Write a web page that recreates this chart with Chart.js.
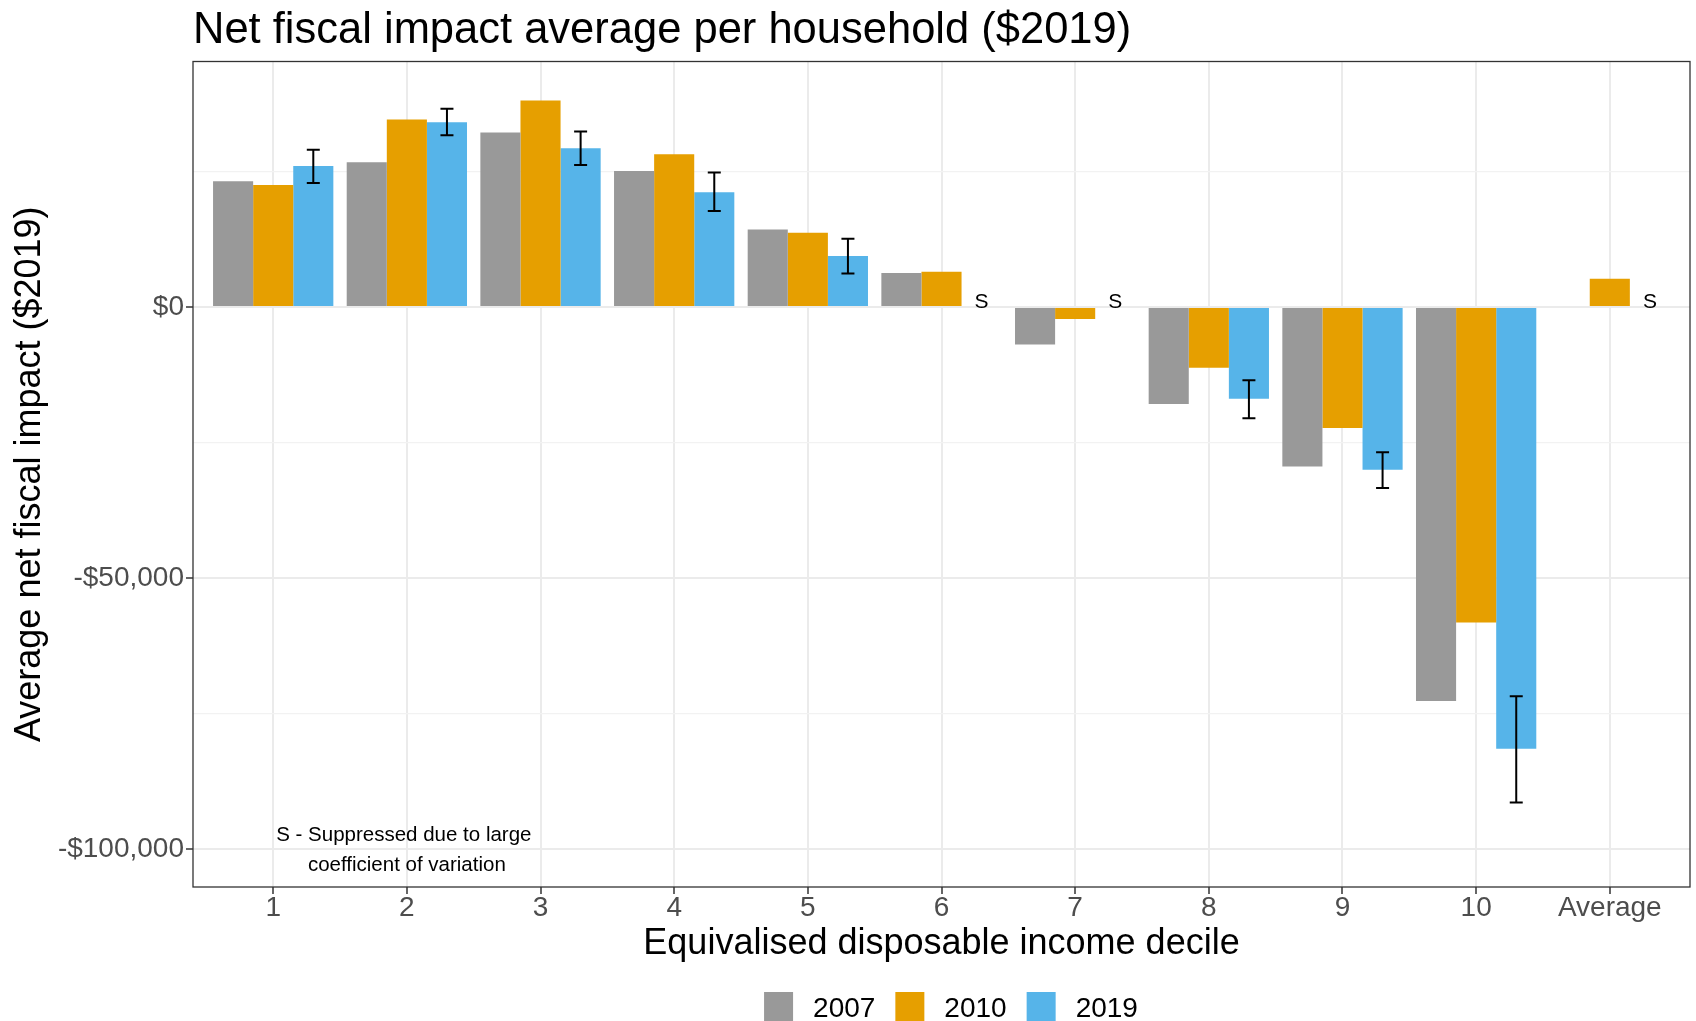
<!DOCTYPE html>
<html>
<head>
<meta charset="utf-8">
<script src="https://cdn.jsdelivr.net/npm/chart.js@4.4.1/dist/chart.umd.min.js"></script>
<style>
  html, body { margin: 0; padding: 0; background: #ffffff; }
  canvas { display: block; }
</style>
</head>
<body>
<canvas id="chart" width="1696" height="1021"></canvas>
<script>
// Income deciles (plus the all-household average) on the x axis
const deciles = ['1', '2', '3', '4', '5', '6', '7', '8', '9', '10', 'Average'];
const years = ['2007', '2010', '2019'];
const yearColors = ['#999999', '#E69F00', '#56B4E9'];

// Average net fiscal impact per household, $2019
const values2007 = [23200, 26700, 32200, 25100, 14300, 6300, -6900, -17900, -29400, -72700, -200];
const values2010 = [22500, 34600, 38100, 28200, 13700, 6500, -2200, -11200, -22300, -58200, 5200];
const values2019 = [26000, 34100, 29300, 21200, 9400, null, null, -16900, -30000, -81500, null];

// 2019 confidence interval bounds
const ci2019Low  = [22900, 31700, 26200, 17700, 6200, null, null, -20500, -33400, -91400, null];
const ci2019High = [29000, 36600, 32400, 24800, 12600, null, null, -13500, -26800, -71800, null];

// 2019 estimates that were suppressed
const suppressed2019 = [5, 6, 10];
const suppressedMark = 'S';
const noteLines = ['S - Suppressed due to large', 'coefficient of variation'];
const noteAt = { x: 1, y: -100000 };

// y axis ticks: labelled majors and unlabelled minors
const yTickValues = [-100000, -75000, -50000, -25000, 0, 25000];
const yTickLabels = ['-$100,000', '', '-$50,000', '', '$0', ''];

const FONT = "'Liberation Sans', Arial, Helvetica, sans-serif";
Chart.defaults.font.family = FONT;

const seriesValues = [values2007, values2010, values2019];

const decor = {
  id: 'decor',
  beforeDraw(chart) {
    const ctx = chart.ctx;
    ctx.save();
    ctx.fillStyle = '#ffffff';
    ctx.fillRect(0, 0, chart.width, chart.height);
    ctx.restore();
  },
  afterDatasetsDraw(chart) {
    const ctx = chart.ctx;
    const xs = chart.scales.x, ys = chart.scales.y;
    const area = chart.chartArea;
    const meta = chart.getDatasetMeta(2);
    const offset2019 = meta.data[0].x - xs.getPixelForValue(0);

    // error bars on the 2019 bars
    ctx.save();
    ctx.strokeStyle = '#000000';
    ctx.lineWidth = 2;
    const cap = 6.5;
    ci2019Low.forEach((lo, i) => {
      const hi = ci2019High[i];
      if (lo === null || hi === null) return;
      const cx = xs.getPixelForValue(i) + offset2019;
      const yl = ys.getPixelForValue(lo), yh = ys.getPixelForValue(hi);
      ctx.beginPath();
      ctx.moveTo(cx, yl); ctx.lineTo(cx, yh);
      ctx.moveTo(cx - cap, yl); ctx.lineTo(cx + cap, yl);
      ctx.moveTo(cx - cap, yh); ctx.lineTo(cx + cap, yh);
      ctx.stroke();
    });

    // suppression markers
    ctx.fillStyle = '#000000';
    ctx.font = '21px ' + FONT;
    ctx.textAlign = 'center';
    ctx.textBaseline = 'alphabetic';
    suppressed2019.forEach(i => {
      const cx = xs.getPixelForValue(i) + offset2019;
      ctx.fillText(suppressedMark, cx, ys.getPixelForValue(0) + 1);
    });

    // footnote inside the panel
    ctx.font = '20.5px ' + FONT;
    const nx = xs.getPixelForValue(noteAt.x);
    const ny = ys.getPixelForValue(noteAt.y);
    ctx.textBaseline = 'middle';
    ctx.fillText(noteLines[0], nx - 3, ny - 14);
    ctx.fillText(noteLines[1], nx, ny + 16);

    // panel border
    ctx.strokeStyle = '#333333';
    ctx.lineWidth = 1.3;
    ctx.strokeRect(area.left, area.top, area.right - area.left, area.bottom - area.top);
    ctx.restore();
  },
  afterDraw(chart) {
    // legend along the bottom
    const ctx = chart.ctx;
    ctx.save();
    ctx.font = '28px ' + FONT;
    const box = 29, gapText = 20, gapItem = 20;
    const widths = chart.data.datasets.map(d => box + gapText + ctx.measureText(d.label).width);
    const total = widths.reduce((a, b) => a + b, 0) + gapItem * (widths.length - 1);
    let x = 951 - total / 2;
    const top = 992;
    ctx.textBaseline = 'alphabetic';
    ctx.textAlign = 'left';
    chart.data.datasets.forEach((d, i) => {
      ctx.fillStyle = d.backgroundColor;
      ctx.fillRect(x, top, box, box);
      ctx.fillStyle = '#000000';
      ctx.fillText(d.label, x + box + gapText, 1017);
      x += widths[i] + gapItem;
    });
    ctx.restore();
  }
};

const isMajorY = (i) => yTickLabels[i] !== '';

new Chart(document.getElementById('chart'), {
  type: 'bar',
  data: {
    datasets: years.map((yr, k) => ({
      label: yr,
      data: seriesValues[k].map((v, i) => ({ x: i, y: v })),
      backgroundColor: yearColors[k],
      borderWidth: 0,
      categoryPercentage: 0.9,
      barPercentage: 1.0
    }))
  },
  options: {
    responsive: false,
    animation: false,
    devicePixelRatio: 1,
    layout: { padding: { top: 0, left: 0, right: 6, bottom: 0 } },
    plugins: {
      legend: { display: false },
      tooltip: { enabled: false },
      title: {
        display: true,
        text: 'Net fiscal impact average per household ($2019)',
        align: 'start',
        fullSize: false,
        color: '#000000',
        font: { size: 43.5, weight: 'normal', lineHeight: 1 },
        padding: { top: 9, bottom: 9 }
      }
    },
    scales: {
      x: {
        type: 'linear',
        min: -0.6,
        max: 10.6,
        offset: false,
        afterBuildTicks: (s) => { s.ticks = deciles.map((_, i) => ({ value: i })); },
        afterFit: (s) => { s.height = 134; },
        ticks: {
          autoSkip: false,
          maxRotation: 0,
          minRotation: 0,
          padding: 0,
          color: '#4D4D4D',
          font: { size: 28, lineHeight: 1 },
          callback: (v) => deciles[v]
        },
        grid: {
          offset: false,
          color: '#EBEBEB',
          lineWidth: 2,
          drawTicks: true,
          tickLength: 7,
          tickColor: '#333333',
          tickWidth: 1.5
        },
        border: { display: false },
        title: {
          display: true,
          text: 'Equivalised disposable income decile',
          color: '#000000',
          font: { size: 36, lineHeight: 1.2 },
          padding: { top: 0, bottom: 55 }
        }
      },
      y: {
        type: 'linear',
        min: -107000,
        max: 45300,
        afterBuildTicks: (s) => { s.ticks = yTickValues.map(v => ({ value: v })); },
        afterFit: (s) => { s.width = 193; },
        ticks: {
          padding: 2,
          color: '#4D4D4D',
          font: { size: 28, lineHeight: 1 },
          callback: (v, i) => yTickLabels[i]
        },
        grid: {
          color: (c) => isMajorY(c.index) ? '#EBEBEB' : '#F2F2F2',
          lineWidth: (c) => isMajorY(c.index) ? 2 : 1.2,
          drawTicks: true,
          tickLength: 7,
          tickColor: (c) => isMajorY(c.index) ? '#333333' : 'rgba(0,0,0,0)',
          tickWidth: 1.5
        },
        border: { display: false },
        title: {
          display: true,
          text: 'Average net fiscal impact ($2019)',
          color: '#000000',
          font: { size: 36, lineHeight: 1.2 },
          padding: { top: 8, bottom: 0 }
        }
      }
    }
  },
  plugins: [decor]
});
</script>
</body>
</html>
